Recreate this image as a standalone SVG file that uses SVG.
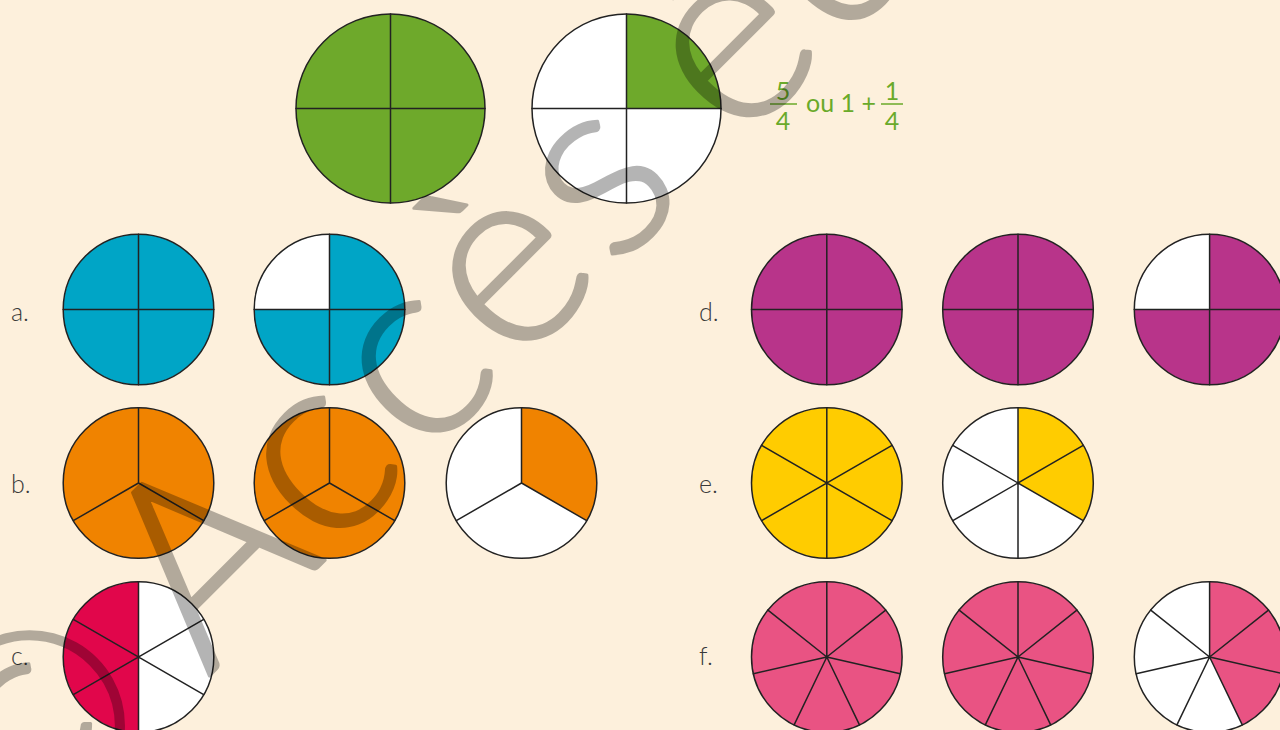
<svg xmlns="http://www.w3.org/2000/svg" width="1280" height="730" viewBox="0 0 1280 730">
<style>
.ln{fill:none;stroke:#222;stroke-width:1.5;stroke-linecap:round}
.ol{fill:none;stroke:#222;stroke-width:1.5}
.lbl{font-family:Lato,"Liberation Sans",sans-serif;font-weight:300;font-size:25px;fill:#3a3a3a}
.fr{font-family:Lato,"Liberation Sans",sans-serif;font-size:25px;fill:#6aaa2a}
.green{fill:#6ea92b}.blue{fill:#00a5c6}.orange{fill:#f08300}.red{fill:#e1064b}
.mag{fill:#b8348a}.yel{fill:#ffcc00}.pink{fill:#e95383}.white{fill:#fff}
.wm{font-family:Lato,"Liberation Sans",sans-serif;font-weight:300;font-size:260px;fill:#000;stroke:#000;stroke-width:3;stroke-linejoin:round}
</style>
<rect width="1280" height="730" fill="#fdf0dc"/>

<g id="top-whole">
<circle cx="390.5" cy="108.5" r="94.5" class="green"/>
<path class="ln" d="M390.5,14V203M296,108.5H485"/>
<circle cx="390.5" cy="108.5" r="94.5" class="ol"/>
</g>
<g id="top-quarter">
<circle cx="626.5" cy="108.5" r="94.5" class="white"/>
<path class="green" d="M626.5,108.5V14A94.5,94.5 0 0 1 721,108.5Z"/>
<path class="ln" d="M626.5,14V203M532,108.5H721"/>
<circle cx="626.5" cy="108.5" r="94.5" class="ol"/>
</g>
<g id="fraction-text">
<text class="fr" x="783" y="99.5" text-anchor="middle">5</text>
<line x1="770" y1="104" x2="797" y2="104" stroke="#6aaa2a" stroke-width="1.5"/>
<text class="fr" x="783" y="130" text-anchor="middle">4</text>
<text class="fr" x="806" y="111.7">ou 1 +</text>
<text class="fr" x="892" y="99.5" text-anchor="middle">1</text>
<line x1="881" y1="104" x2="903" y2="104" stroke="#6aaa2a" stroke-width="1.5"/>
<text class="fr" x="892" y="130" text-anchor="middle">4</text>
</g>

<g id="labels">
<text class="lbl" x="11" y="321">a.</text>
<text class="lbl" x="11" y="493">b.</text>
<text class="lbl" x="11" y="665">c.</text>
<text class="lbl" x="699" y="321">d.</text>
<text class="lbl" x="699" y="493">e.</text>
<text class="lbl" x="699" y="665">f.</text>
</g>

<g id="a1">
<circle cx="138.5" cy="309.5" r="75.3" class="blue"/>
<path class="ln" d="M138.5,234.2V384.8M63.2,309.5H213.8"/>
<circle cx="138.5" cy="309.5" r="75.3" class="ol"/>
</g>
<g id="a2">
<circle cx="329.5" cy="309.5" r="75.3" class="blue"/>
<path class="white" d="M329.5,309.5H254.2A75.3,75.3 0 0 1 329.5,234.2Z"/>
<path class="ln" d="M329.5,234.2V384.8M254.2,309.5H404.8"/>
<circle cx="329.5" cy="309.5" r="75.3" class="ol"/>
</g>

<g id="b1">
<circle cx="138.5" cy="483" r="75.3" class="orange"/>
<path class="ln" d="M138.5,407.7V483L203.7,520.65M138.5,483L73.3,520.65"/>
<circle cx="138.5" cy="483" r="75.3" class="ol"/>
</g>
<g id="b2">
<circle cx="329.5" cy="483" r="75.3" class="orange"/>
<path class="ln" d="M329.5,407.7V483L394.7,520.65M329.5,483L264.3,520.65"/>
<circle cx="329.5" cy="483" r="75.3" class="ol"/>
</g>
<g id="b3">
<circle cx="521.5" cy="483" r="75.3" class="white"/>
<path class="orange" d="M521.5,483V407.7A75.3,75.3 0 0 1 586.7,520.65Z"/>
<path class="ln" d="M521.5,407.7V483L586.7,520.65M521.5,483L456.3,520.65"/>
<circle cx="521.5" cy="483" r="75.3" class="ol"/>
</g>

<g id="c1">
<circle cx="138.5" cy="657" r="75.3" class="white"/>
<path class="red" d="M138.5,581.7A75.3,75.3 0 0 0 138.5,732.3Z"/>
<path class="ln" d="M138.5,581.7V732.3M73.3,619.35L203.7,694.65M73.3,694.65L203.7,619.35"/>
<circle cx="138.5" cy="657" r="75.3" class="ol"/>
</g>

<g id="d1">
<circle cx="826.8" cy="309.5" r="75.3" class="mag"/>
<path class="ln" d="M826.8,234.2V384.8M751.5,309.5H902.1"/>
<circle cx="826.8" cy="309.5" r="75.3" class="ol"/>
</g>
<g id="d2">
<circle cx="1018" cy="309.5" r="75.3" class="mag"/>
<path class="ln" d="M1018,234.2V384.8M942.7,309.5H1093.3"/>
<circle cx="1018" cy="309.5" r="75.3" class="ol"/>
</g>
<g id="d3">
<circle cx="1209.6" cy="309.5" r="75.3" class="mag"/>
<path class="white" d="M1209.6,309.5H1134.3A75.3,75.3 0 0 1 1209.6,234.2Z"/>
<path class="ln" d="M1209.6,234.2V384.8M1134.3,309.5H1284.9"/>
<circle cx="1209.6" cy="309.5" r="75.3" class="ol"/>
</g>

<g id="e1">
<circle cx="826.8" cy="483" r="75.3" class="yel"/>
<path class="ln" d="M826.8,407.7V558.3M761.6,445.35L892,520.65M761.6,520.65L892,445.35"/>
<circle cx="826.8" cy="483" r="75.3" class="ol"/>
</g>
<g id="e2">
<circle cx="1018" cy="483" r="75.3" class="white"/>
<path class="yel" d="M1018,483V407.7A75.3,75.3 0 0 1 1083.2,520.65Z"/>
<path class="ln" d="M1018,407.7V558.3M952.8,445.35L1083.2,520.65M952.8,520.65L1083.2,445.35"/>
<circle cx="1018" cy="483" r="75.3" class="ol"/>
</g>

<g id="f1">
<circle cx="826.8" cy="657" r="75.3" class="pink"/>
<path class="ln" d="M826.8,657L826.8,581.7M826.8,657L885.67,610.05M826.8,657L900.21,673.75M826.8,657L859.47,724.85M826.8,657L794.13,724.85M826.8,657L753.39,673.75M826.8,657L767.93,610.05"/>
<circle cx="826.8" cy="657" r="75.3" class="ol"/>
</g>
<g id="f2">
<circle cx="1018" cy="657" r="75.3" class="pink"/>
<path class="ln" d="M1018,657L1018,581.7M1018,657L1076.87,610.05M1018,657L1091.41,673.75M1018,657L1050.67,724.85M1018,657L985.33,724.85M1018,657L944.59,673.75M1018,657L959.13,610.05"/>
<circle cx="1018" cy="657" r="75.3" class="ol"/>
</g>
<g id="f3">
<circle cx="1209.6" cy="657" r="75.3" class="white"/>
<path class="pink" d="M1209.6,657V581.7A75.3,75.3 0 0 1 1242.27,724.85Z"/>
<path class="ln" d="M1209.6,657L1209.6,581.7M1209.6,657L1268.47,610.05M1209.6,657L1283.01,673.75M1209.6,657L1242.27,724.85M1209.6,657L1176.93,724.85M1209.6,657L1136.19,673.75M1209.6,657L1150.73,610.05"/>
<circle cx="1209.6" cy="657" r="75.3" class="ol"/>
</g>

<g id="watermark" opacity="0.29">
<text class="wm" transform="rotate(-45)" y="626" text-anchor="middle"><tspan x="-492">©</tspan><tspan x="-248">A</tspan><tspan x="-102">c</tspan><tspan x="33">c</tspan><tspan x="168">è</tspan><tspan x="297">s</tspan><tspan x="484">é</tspan><tspan x="630">d</tspan></text>
</g>
</svg>
